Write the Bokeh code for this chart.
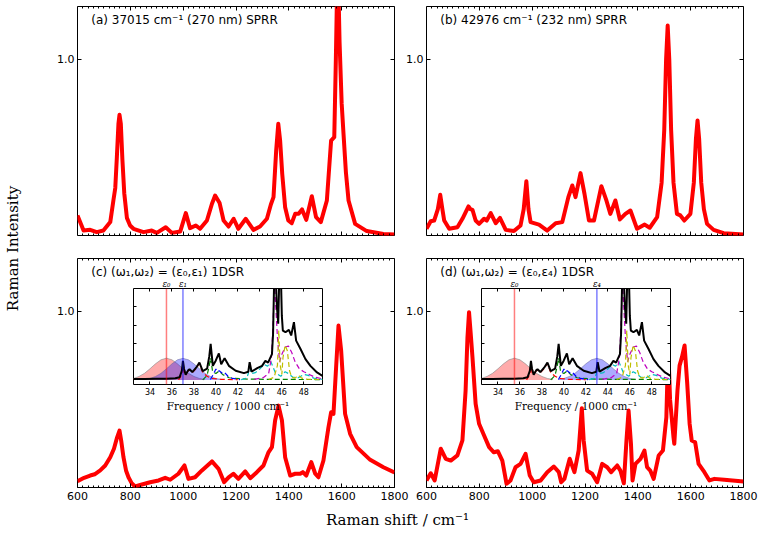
from bokeh.plotting import figure
from bokeh.models import Range1d, LinearAxis, FixedTicker, Label, PrintfTickFormatter, Row, Span
from bokeh.embed import file_html
from bokeh.resources import INLINE
from bokeh.core.properties import value

# ---------------- data ----------------
a_shift = [600, 623, 648, 673, 698, 724, 736, 743, 749, 755, 759, 764, 770, 777, 787, 799, 812, 850, 881, 900, 934,
           957, 989, 1010, 1026, 1048, 1064, 1090, 1109, 1121, 1138, 1153, 1172, 1191, 1209, 1237, 1266, 1291, 1317,
           1332, 1342, 1352, 1360, 1367, 1375, 1386, 1398, 1411, 1424, 1437, 1450, 1466, 1487, 1503, 1521, 1544,
           1560, 1572, 1578, 1585, 1592, 1600, 1607, 1616, 1626, 1651, 1695, 1758, 1800]
a_int = [0.114, 0.028, 0.032, 0.019, 0.028, 0.076, 0.2, 0.27, 0.445, 0.634, 0.685, 0.634, 0.43, 0.24, 0.10, 0.057,
         0.038, 0.019, 0.028, 0.015, 0.047, 0.015, 0.023, 0.127, 0.042, 0.057, 0.038, 0.085, 0.18, 0.227, 0.184,
         0.085, 0.051, 0.095, 0.038, 0.095, 0.032, 0.051, 0.095, 0.176, 0.218, 0.48, 0.634, 0.54, 0.35, 0.16,
         0.085, 0.07, 0.123, 0.123, 0.148, 0.089, 0.223, 0.104, 0.076, 0.199, 0.539, 0.558, 1.0, 1.6, 1.1, 0.75,
         0.577, 0.36, 0.199, 0.066, 0.025, 0.009, 0.006]

b_shift = [600, 616, 629, 643, 652, 660, 667, 686, 717, 736, 759, 766, 774, 786, 799, 818, 828, 843, 862, 878, 900,
           931, 956, 968, 978, 986, 994, 1026, 1057, 1089, 1114, 1137, 1152, 1164, 1183, 1198, 1215, 1234, 1262,
           1281, 1296, 1315, 1332, 1353, 1372, 1397, 1426, 1445, 1473, 1490, 1500, 1507, 1513, 1519, 1526, 1535,
           1548, 1561, 1576, 1599, 1612, 1620, 1626, 1632, 1640, 1650, 1662, 1687, 1725, 1800]
b_int = [0.038, 0.081, 0.085, 0.15, 0.231, 0.15, 0.085, 0.038, 0.047, 0.095, 0.165, 0.15, 0.146, 0.085, 0.066,
         0.095, 0.085, 0.127, 0.07, 0.1, 0.032, 0.025, 0.057, 0.15, 0.308, 0.15, 0.076, 0.062, 0.028, 0.07, 0.076,
         0.218, 0.284, 0.218, 0.354, 0.237, 0.085, 0.085, 0.28, 0.199, 0.123, 0.199, 0.091, 0.123, 0.142, 0.038,
         0.062, 0.044, 0.104, 0.3, 0.6, 1.0, 1.192, 1.0, 0.6, 0.3, 0.123, 0.114, 0.085, 0.123, 0.3, 0.55, 0.653,
         0.55, 0.3, 0.15, 0.066, 0.032, 0.013, 0.006]

c_shift = [600, 625, 648, 665, 686, 705, 724, 738, 750, 759, 766, 774, 784, 793, 805, 818, 844, 875, 907, 932, 951,
           982, 1005, 1020, 1045, 1071, 1109, 1134, 1155, 1172, 1190, 1209, 1235, 1254, 1279, 1304, 1323, 1336, 1348,
           1361, 1374, 1386, 1405, 1424, 1443, 1453, 1466, 1485, 1500, 1512, 1531, 1550, 1560, 1569, 1579, 1588,
           1598, 1613, 1632, 1657, 1708, 1758, 1800]
c_int = [0.036, 0.055, 0.068, 0.075, 0.097, 0.125, 0.172, 0.22, 0.285, 0.323, 0.26, 0.172, 0.095, 0.058, 0.025,
         0.006, 0.017, 0.03, 0.04, 0.055, 0.044, 0.078, 0.125, 0.049, 0.058, 0.097, 0.148, 0.106, 0.03, 0.058, 0.078,
         0.049, 0.091, 0.053, 0.087, 0.125, 0.2, 0.229, 0.38, 0.465, 0.38, 0.172, 0.068, 0.078, 0.078, 0.087, 0.068,
         0.144, 0.078, 0.058, 0.153, 0.342, 0.427, 0.418, 0.683, 0.919, 0.778, 0.418, 0.305, 0.229, 0.157, 0.115,
         0.085]

d_shift = [600, 616, 631, 654, 673, 692, 717, 736, 748, 755, 761, 767, 774, 786, 799, 818, 837, 855, 870, 887, 903,
           918, 937, 956, 975, 991, 1006, 1032, 1057, 1082, 1101, 1110, 1122, 1142, 1160, 1176, 1188, 1195, 1208,
           1227, 1246, 1265, 1284, 1299, 1322, 1334, 1347, 1357, 1365, 1374, 1380, 1391, 1410, 1425, 1435, 1447,
           1460, 1479, 1495, 1508, 1515, 1522, 1535, 1538, 1550, 1558, 1567, 1577, 1587, 1596, 1604, 1617, 1630,
           1652, 1671, 1690, 1727, 1800]
d_int = [0.040, 0.081, 0.040, 0.22, 0.163, 0.153, 0.182, 0.267, 0.55, 0.85, 0.995, 0.88, 0.74, 0.475, 0.362, 0.295,
         0.229, 0.2, 0.206, 0.153, 0.021, 0.04, 0.115, 0.134, 0.191, 0.068, 0.03, 0.04, 0.087, 0.119, 0.087, 0.03,
         0.049, 0.163, 0.087, 0.21, 0.45, 0.267, 0.096, 0.078, 0.03, 0.134, 0.115, 0.087, 0.125, 0.096, 0.024,
         0.267, 0.437, 0.248, 0.04, 0.134, 0.163, 0.21, 0.115, 0.096, 0.049, 0.182, 0.21, 0.399, 0.8, 0.5, 0.285,
         0.248, 0.55, 0.692, 0.74, 0.806, 0.589, 0.362, 0.267, 0.257, 0.134, 0.087, 0.04, 0.049, 0.044, 0.034]

x_ticks = [600, 800, 1000, 1200, 1400, 1600, 1800]
x_minor = list(range(600, 1801, 20))
y_ticks = [1.0]

# inset spectra (frequency / 1000 cm-1)
black_f = [32.5, 33.5, 34.5, 35.5, 36.3, 36.7, 36.9, 37.0, 37.1, 37.25, 37.5, 37.6, 37.85, 38.2, 38.5, 38.8, 39.2,
           39.4, 39.52, 39.72, 39.97, 40.27, 40.48, 40.79, 41.18, 41.8, 42.55, 42.95, 43.07, 43.24, 43.76, 44.2,
           44.5, 44.75, 45.1, 45.2, 45.32, 45.42, 45.55, 45.67, 45.78, 45.9, 46.0, 46.09, 46.33, 46.64, 46.85, 47.1,
           47.3, 47.7, 48.15, 48.6, 49.2, 49.7]
black_v = [0.05, 0.05, 0.06, 0.07, 0.09, 0.15, 0.5, 1.04, 0.6, 0.28, 0.55, 0.58, 0.43, 0.67, 0.95, 0.48, 0.62, 1.3,
           1.97, 0.77, 1.04, 1.45, 0.86, 1.19, 0.77, 0.5, 0.37, 0.45, 0.97, 0.46, 0.64, 0.77, 1.04, 0.95, 1.41, 2.5,
           6.0, 6.0, 4.0, 3.07, 6.0, 6.0, 3.5, 2.7, 2.61, 2.74, 2.43, 3.16, 2.15, 1.69, 1.14, 0.77, 0.41, 0.22]

comp_red_f = [36.6, 36.9, 37.0, 37.1, 37.3, 37.55, 37.85, 38.2, 38.5, 38.8, 39.2, 39.6, 40.5, 42.0]
comp_red_v = [0.0, 0.3, 0.95, 0.4, 0.35, 0.55, 0.4, 0.62, 0.9, 0.4, 0.2, 0.08, 0.03, 0.01]
comp_green_f = [38.8, 39.2, 39.4, 39.52, 39.7, 40.0, 40.3, 40.6, 41.2, 42.5, 45.0, 49.7]
comp_green_v = [0.0, 0.25, 0.8, 1.2, 0.45, 0.35, 0.5, 0.3, 0.12, 0.05, 0.03, 0.02]
comp_blue_f = [39.5, 39.8, 40.0, 40.15, 40.3, 40.6, 40.8, 41.1, 41.5, 42.2]
comp_blue_v = [0.02, 0.35, 0.6, 0.45, 0.5, 0.35, 0.4, 0.2, 0.08, 0.02]
comp_cyan_f = [42.3, 42.8, 42.95, 43.07, 43.2, 43.6, 44.0, 44.4, 44.7, 45.0, 45.4, 45.9, 46.3, 46.6, 47.0, 47.5,
               48.0, 48.4, 48.9, 49.7]
comp_cyan_v = [0.02, 0.1, 0.35, 0.9, 0.35, 0.4, 0.6, 0.85, 0.75, 1.0, 0.4, 0.2, 0.45, 0.35, 0.15, 0.12, 0.3, 0.25,
               0.1, 0.03]
comp_magenta_f = [43.5, 44.3, 44.8, 45.05, 45.2, 45.32, 45.45, 45.6, 45.8, 46.0, 46.3, 46.6, 46.9, 47.2, 47.6, 48.0,
                  48.5, 49.0, 49.7]
comp_magenta_v = [0.03, 0.12, 0.35, 1.2, 3.0, 5.5, 4.0, 2.3, 1.0, 1.4, 1.8, 1.85, 1.5, 1.0, 0.6, 0.45, 0.3, 0.15,
                  0.06]
comp_yellow_f = [44.8, 45.3, 45.6, 45.72, 45.85, 46.0, 46.1, 46.3, 46.5, 46.7, 46.9, 47.2, 47.5, 47.8, 48.3, 49.7]
comp_yellow_v = [0.02, 0.15, 0.8, 2.7, 0.8, 0.3, 1.2, 1.9, 1.6, 0.5, 0.15, 0.1, 0.25, 0.1, 0.04, 0.02]

red_gauss_f = [32.0, 32.5, 33.0, 33.5, 34.0, 34.5, 35.0, 35.5, 36.0, 36.5, 37.0, 37.5, 38.0, 38.5, 39.0]
red_gauss_v = [0.03, 0.08, 0.19, 0.36, 0.61, 0.88, 1.10, 1.19, 1.10, 0.88, 0.61, 0.36, 0.19, 0.08, 0.03]
blue_gauss_c_f = [33.5, 34.0, 34.5, 35.0, 35.5, 36.0, 36.5, 37.0, 37.5, 38.0, 38.5, 39.0, 39.5, 40.0, 40.5]
blue_gauss_d_f = [39.5, 40.0, 40.5, 41.0, 41.5, 42.0, 42.5, 43.0, 43.5, 44.0, 44.5, 45.0, 45.5, 46.0, 46.5]
blue_gauss_v = [0.03, 0.08, 0.19, 0.36, 0.61, 0.88, 1.10, 1.18, 1.10, 0.88, 0.61, 0.36, 0.19, 0.08, 0.03]

eps0, eps1, eps4 = 35.5, 37.0, 43.0
inset_x_ticks = [34, 36, 38, 40, 42, 44, 46, 48]
inset_y_ticks = [1, 2, 3, 4]

SANS = "DejaVu Sans"
SERIF = "DejaVu Serif"
BT, BB = 18, 40   # top / bottom canvas borders used for every figure


def base_fig(W, H, bl, br, xr, yr):
    p = figure(width=W + bl + br, height=H + BT + BB, x_range=xr, y_range=yr,
               output_backend="svg", toolbar_location=None,
               x_axis_location=None, y_axis_location=None,
               min_border_left=bl, min_border_right=br, min_border_top=BT, min_border_bottom=BB)
    p.title.visible = False
    p.grid.visible = False
    p.border_fill_color = None
    p.background_fill_color = "white"
    p.outline_line_color = "black"
    p.outline_line_width = 1
    return p


def label_axis(ticks, minor, font_size, tick_in, minor_in, standoff, fmt=None, font=SANS):
    ax = LinearAxis(ticker=FixedTicker(ticks=ticks, minor_ticks=minor))
    ax.axis_line_color = None
    ax.major_tick_in = tick_in
    ax.major_tick_out = 0
    ax.minor_tick_in = minor_in
    ax.minor_tick_out = 0
    ax.major_tick_line_color = "black"
    ax.minor_tick_line_color = "black"
    ax.major_label_text_font = font
    ax.major_label_text_color = "black"
    ax.major_label_text_font_size = font_size
    ax.major_label_standoff = standoff
    if fmt is not None:
        ax.formatter = fmt
    return ax


def tick_axis(loc, positions, length):
    # an axis that only draws (unlabelled) tick marks at the frame edge
    ax = LinearAxis(ticker=FixedTicker(ticks=[], minor_ticks=positions), fixed_location=loc)
    ax.axis_line_color = None
    ax.major_tick_in = 0
    ax.major_tick_out = 0
    ax.minor_tick_in = length
    ax.minor_tick_out = 0
    ax.minor_tick_line_color = "black"
    ax.major_label_standoff = 0
    return ax


def main_panel(xs, ys, title, W, H, bl, br, show_x):
    p = base_fig(W, H, bl, br, Range1d(600, 1800), Range1d(0, 1.3))
    if show_x:
        p.add_layout(label_axis(x_ticks, x_minor, "11px", 4, 2, 4), "below")
    else:
        p.add_layout(tick_axis(0, x_minor, 2), "below")
        p.add_layout(tick_axis(0, x_ticks, 4), "below")
    p.add_layout(tick_axis(1.3, x_minor, 2), "above")
    p.add_layout(tick_axis(1.3, x_ticks, 4), "above")
    p.add_layout(label_axis(y_ticks, [], "11px", 4, 0, 3, fmt=PrintfTickFormatter(format="%.1f")), "left")
    p.add_layout(tick_axis(1800, y_ticks, 4), "right")
    p.line(xs, ys, line_color="#ff0000", line_width=4, line_join="round")
    p.add_layout(Label(x=652, y=1.3 - 13.5 * 1.3 / H, text=title, text_font=SANS, text_font_size="12px",
                       text_baseline="middle", text_align="left", text_color="black"))
    return p


def inset_panel(W, H, bl, br, blue_f, eps_b, eps_b_label):
    p = base_fig(W, H, bl, br, Range1d(32.5, 49.7), Range1d(-0.25, 5.0))
    bx = label_axis(inset_x_ticks, [], "8px", 3, 0, 3)
    bx.axis_label = "Frequency / 1000 cm\u207b\u00b9"
    bx.axis_label_text_font = SERIF
    bx.axis_label_text_font_style = "normal"
    bx.axis_label_text_font_size = "10.5px"
    bx.axis_label_text_color = "black"
    bx.axis_label_standoff = 2
    p.add_layout(bx, "below")
    top = label_axis([eps0, eps_b], inset_x_ticks, "8.5px", 0, 3, 0, font=SERIF)
    top.major_label_overrides = {eps0: "\u03b5\u2080", eps_b: eps_b_label}
    top.major_label_text_font_style = "italic"
    p.add_layout(top, "above")
    p.add_layout(tick_axis(32.5, inset_y_ticks, 3), "left")
    p.add_layout(tick_axis(49.7, inset_y_ticks, 3), "right")

    p.varea(x=red_gauss_f, y1=0, y2=red_gauss_v, fill_color="#ff0000", fill_alpha=0.33)
    p.line(red_gauss_f, red_gauss_v, line_color="#888888", line_alpha=0.6, line_width=1)
    p.varea(x=blue_f, y1=0, y2=blue_gauss_v, fill_color="#0000ff", fill_alpha=0.33)
    p.line(blue_f, blue_gauss_v, line_color="#666699", line_alpha=0.5, line_width=1)
    p.add_layout(Span(location=eps0, dimension="height", line_color="#ff0000", line_alpha=0.5, line_width=1.5))
    p.add_layout(Span(location=eps_b, dimension="height", line_color="#0000ff", line_alpha=0.5, line_width=1.5))
    for f, v, col in [(comp_red_f, comp_red_v, "#ff0000"), (comp_green_f, comp_green_v, "#008000"),
                      (comp_blue_f, comp_blue_v, "#0000ff"), (comp_cyan_f, comp_cyan_v, "#00bfbf"),
                      (comp_magenta_f, comp_magenta_v, "#bf00bf"), (comp_yellow_f, comp_yellow_v, "#bfbf00")]:
        p.line(f, v, line_color=col, line_width=1.2, line_dash="5 3")
    p.line(black_f, black_v, line_color="black", line_width=2)
    return p


# ---------------- panels (positions are page pixels of each frame's top-left corner) ----------------
PW, PH = 317, 229
pa = main_panel(a_shift, a_int, "(a) 37015 cm\u207b\u00b9 (270 nm) SPRR", PW, PH, 40, 8, False)
pb = main_panel(b_shift, b_int, "(b) 42976 cm\u207b\u00b9 (232 nm) SPRR", PW, PH, 40, 8, False)
pc = main_panel(c_shift, c_int, "(c) (\u03c9\u2081,\u03c9\u2082) = (\u03b5\u2080,\u03b5\u2081) 1DSR", PW, PH, 40, 20, True)
pd = main_panel(d_shift, d_int, "(d) (\u03c9\u2081,\u03c9\u2082) = (\u03b5\u2080,\u03b5\u2084) 1DSR", PW, PH, 40, 16, True)
IW, IH = 189, 96
ic = inset_panel(IW, IH, 6, 6, blue_gauss_c_f, eps1, "\u03b5\u2081")
idd = inset_panel(IW, IH, 6, 6, blue_gauss_d_f, eps4, "\u03b5\u2084")

# transparent overlay (frame = whole page) holding the shared axis titles
PAGE_W, PAGE_H = 764, 533
bg = figure(width=PAGE_W, height=PAGE_H + BT + BB, x_range=Range1d(0, PAGE_W), y_range=Range1d(0, PAGE_H),
            output_backend="svg", toolbar_location=None, x_axis_location=None, y_axis_location=None,
            min_border_left=0, min_border_right=0, min_border_top=BT, min_border_bottom=BB)
bg.title.visible = False
bg.grid.visible = False
bg.outline_line_color = None
bg.background_fill_color = None
bg.border_fill_color = None
bg.add_layout(Label(x=12, y=PAGE_H - 248, text="Raman Intensity", angle=90, angle_units="deg",
                    text_font=SERIF, text_font_size="15px", text_align="center", text_baseline="middle",
                    text_color="black"))
bg.add_layout(Label(x=397, y=PAGE_H - 519, text="Raman shift / cm\u207b\u00b9",
                    text_font=SERIF, text_font_size="15px", text_align="center", text_baseline="middle",
                    text_color="black"))

# (figure, frame left, frame top, left border, canvas width)
placements = [
    (pa, 77, 6, 40, PW + 48),
    (pb, 426, 6, 40, PW + 48),
    (pc, 77, 258, 40, PW + 60),
    (ic, 133, 288, 6, IW + 12),
    (pd, 426, 258, 40, PW + 56),
    (idd, 481, 288, 6, IW + 12),
]
children = []
prev_end = 0
for fig, fx, fy, bl, Wc in placements:
    X, Y = fx - bl, fy - BT
    fig.margin = (Y, 0, 0, X - prev_end)
    prev_end = X + Wc
    children.append(fig)
bg.margin = (-BT, 0, -BB, 0 - prev_end)
children.append(bg)

root = Row(children=children)

open("out.html", "w").write(file_html(root, INLINE))
